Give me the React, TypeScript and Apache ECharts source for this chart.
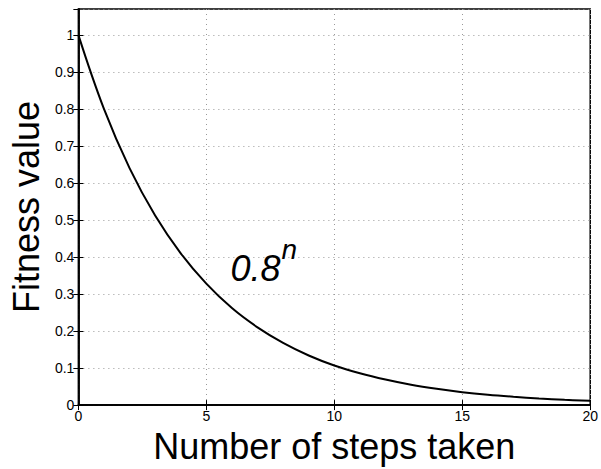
import React, { useEffect, useRef } from "react";
import * as echarts from "echarts";

const steps = [0, 1, 2, 3, 4, 5, 6, 7, 8, 9, 10, 11, 12, 13, 14, 15, 16, 17, 18, 19, 20];
const fitness = [1.0, 0.8, 0.64, 0.512, 0.41, 0.328, 0.262, 0.21, 0.168, 0.134, 0.107, 0.086, 0.069, 0.055, 0.044, 0.035, 0.028, 0.0225, 0.018, 0.0144, 0.0115];
const xTicks = [0, 5, 10, 15, 20];
const yTicks = [0, 0.1, 0.2, 0.3, 0.4, 0.5, 0.6, 0.7, 0.8, 0.9, 1];
const xName = "Number of steps taken";
const yName = "Fitness value";
const annotationBase = "0.8";
const annotationSup = "n";
const annotationAt = [6.02, 0.335];

const FONT = "'Liberation Sans', Arial, Helvetica, sans-serif";

export default function App() {
  const ref = useRef<HTMLDivElement>(null);
  useEffect(() => {
    if (!ref.current) return;
    const chart = echarts.init(ref.current, undefined, { renderer: "svg" });
    const grid = { left: 78, right: 8, top: 9, bottom: 55 };
    const splitStyle = { show: true, lineStyle: { color: "#999", type: [1, 4] as any, width: 1 } };
    const baseX = {
      type: "value" as const,
      min: xTicks[0],
      max: xTicks[xTicks.length - 1],
      interval: 5,
    };
    const baseY = {
      type: "value" as const,
      min: yTicks[0],
      max: 1.07,
      interval: 0.1,
    };
    chart.setOption({
      animation: false,
      grid: { ...grid, show: true, borderColor: "#000", borderWidth: 1.5, backgroundColor: "#fff" },
      xAxis: [
        {
          ...baseX,
          position: "bottom",
          name: xName,
          nameLocation: "middle",
          nameGap: 21,
          nameTextStyle: { fontSize: 36, color: "#000", fontFamily: FONT },
          axisLine: { show: true, lineStyle: { color: "#000", width: 1.5 } },
          axisTick: { show: true, inside: true, length: 5, lineStyle: { color: "#000" } },
          axisLabel: { fontSize: 14, color: "#000", fontFamily: FONT, margin: 4 },
          splitLine: splitStyle,
        },
        {
          ...baseX,
          position: "top",
          axisLine: { show: true, lineStyle: { color: "#000", width: 1.5 } },
          axisTick: { show: true, inside: true, length: 5, lineStyle: { color: "#000" } },
          axisLabel: { show: false },
          splitLine: { show: false },
        },
      ],
      yAxis: [
        {
          ...baseY,
          position: "left",
          name: yName,
          nameLocation: "middle",
          nameGap: 34,
          nameTextStyle: { fontSize: 36, color: "#000", fontFamily: FONT },
          axisLine: { show: true, lineStyle: { color: "#000", width: 1.5 } },
          axisTick: { show: true, inside: true, length: 5, lineStyle: { color: "#000" } },
          axisLabel: { fontSize: 14, color: "#000", fontFamily: FONT, margin: 4, showMaxLabel: false },
          splitLine: splitStyle,
        },
        {
          ...baseY,
          position: "right",
          axisLine: { show: true, lineStyle: { color: "#000", width: 1.5 } },
          axisTick: { show: true, inside: true, length: 5, lineStyle: { color: "#000" } },
          axisLabel: { show: false },
          splitLine: { show: false },
        },
      ],
      series: [
        {
          type: "line",
          data: steps.map((s, i) => [s, fitness[i]]),
          smooth: 0.4,
          showSymbol: false,
          lineStyle: { color: "#000", width: 2 },
        },
      ],
    });
    const p = chart.convertToPixel({ gridIndex: 0 }, annotationAt) as number[];
    chart.setOption({
      graphic: [
        {
          type: "text",
          x: p[0] - 2,
          y: p[1] - 12.5,
          style: {
            text: annotationBase,
            fontSize: 36,
            fontStyle: "italic",
            fontFamily: FONT,
            fill: "#000",
            verticalAlign: "middle",
            align: "left",
          },
        },
        {
          type: "text",
          x: p[0] + 49,
          y: p[1] - 31.5,
          style: {
            text: annotationSup,
            fontSize: 28,
            fontStyle: "italic",
            fontFamily: FONT,
            fill: "#000",
            verticalAlign: "middle",
            align: "left",
          },
        },
      ],
    });
    return () => chart.dispose();
  }, []);
  return (
    <div
      ref={ref}
      style={{ position: "fixed", left: 0, top: 0, width: 601, height: 469, background: "#fff" }}
    />
  );
}
